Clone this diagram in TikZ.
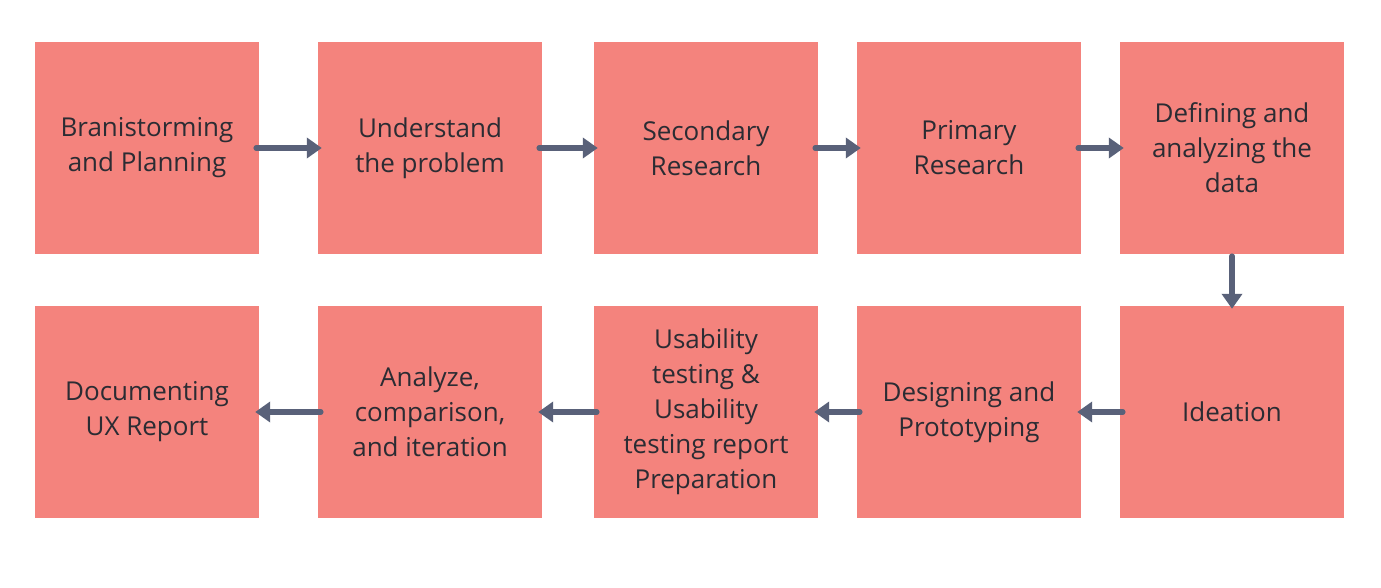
\documentclass[tikz,border=0pt]{standalone}
\usepackage{fontspec}
\setmainfont{Open Sans}
\usetikzlibrary{arrows.meta}
\definecolor{boxred}{HTML}{F4837D}
\definecolor{arrowgray}{HTML}{596179}
\definecolor{textdark}{HTML}{2B2C33}
\begin{document}
\begin{tikzpicture}[x=1pt,y=-1pt,
  stage/.style={fill=boxred, minimum width=224pt, minimum height=212pt, inner sep=0pt,
    align=center, text=textdark, font=\fontsize{26}{35}\selectfont},
  flow/.style={draw=arrowgray, line width=5.5pt, line cap=round,
    -{Triangle[length=15pt,width=20pt]}}]
\useasboundingbox (0,0) rectangle (1381,588);

% Top row
\node[stage] (b1) at (147,148) {Branistorming\\and Planning};
\node[stage] (b2) at (430,148) {Understand\\the problem};
\node[stage] (b3) at (706,148) {Secondary\\Research};
\node[stage] (b4) at (969,148) {Primary\\Research};
\node[stage] (b5) at (1232,148) {Defining and\\analyzing the\\data};

% Bottom row
\node[stage] (b6) at (1232,412) {Ideation};
\node[stage] (b7) at (969,412) {Designing and\\Prototyping};
\node[stage] (b8) at (706,412) {Usability\\testing \&\\Usability\\testing report\\Preparation};
\node[stage] (b9) at (430,412) {Analyze,\\comparison,\\and iteration};
\node[stage] (b10) at (147,412) {Documenting\\UX Report};

% Connectors
\draw[flow] ([xshift=-3pt]b1.east) -- ([xshift=4pt]b2.west);
\draw[flow] ([xshift=-3pt]b2.east) -- ([xshift=4pt]b3.west);
\draw[flow] ([xshift=-3pt]b3.east) -- ([xshift=4pt]b4.west);
\draw[flow] ([xshift=-3pt]b4.east) -- ([xshift=4pt]b5.west);
\draw[flow] ([yshift=-2pt]b5.south) -- ([yshift=-3pt]b6.north);
\draw[flow] ([xshift=3pt]b6.west) -- ([xshift=-4pt]b7.east);
\draw[flow] ([xshift=3pt]b7.west) -- ([xshift=-4pt]b8.east);
\draw[flow] ([xshift=3pt]b8.west) -- ([xshift=-4pt]b9.east);
\draw[flow] ([xshift=3pt]b9.west) -- ([xshift=-4pt]b10.east);
\end{tikzpicture}
\end{document}
